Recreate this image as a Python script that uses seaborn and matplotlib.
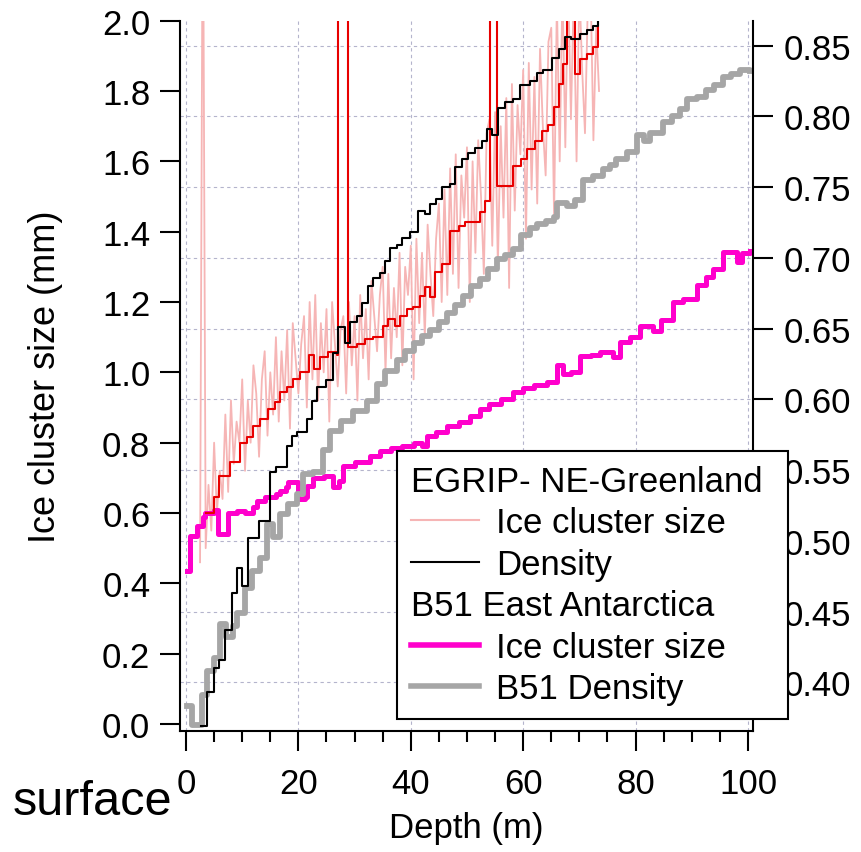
import numpy as np
import matplotlib
matplotlib.use("Agg")
import matplotlib.pyplot as plt
import matplotlib.transforms as mtransforms
from matplotlib.ticker import MultipleLocator, FormatStrFormatter
from matplotlib.lines import Line2D
import seaborn as sns

# ---------------- data ----------------
# EGRIP raw ice cluster size (left axis), sampled every 0.5 m from 2.5 m
pink_start, pink_step = 2.5, 0.5
pink_vals = [
    0.46, 2.50, 0.50, 0.68, 0.55, 0.80, 0.60, 0.72, 0.64, 0.88,
    0.66, 0.92, 0.74, 0.86, 0.80, 0.98, 0.72, 0.92, 0.80, 1.02,
    0.94, 0.76, 0.98, 1.06, 0.82, 1.00, 0.88, 1.10, 0.86, 1.06,
    0.92, 1.12, 0.84, 1.14, 1.04, 0.94, 1.08, 1.16, 0.90, 1.20,
    0.98, 1.22, 0.92, 1.14, 1.00, 1.18, 0.86, 1.20, 1.08, 0.96,
    1.12, 1.16, 0.94, 1.20, 1.02, 1.16, 0.92, 1.22, 1.04, 1.18,
    0.98, 1.26, 1.16, 1.06, 1.22, 1.30, 1.00, 1.28, 1.04, 1.24,
    1.10, 1.34, 1.02, 1.30, 1.22, 1.36, 0.98, 1.38, 1.14, 1.34,
    1.10, 1.42, 1.28, 1.16, 1.38, 1.48, 1.20, 1.52, 1.22, 1.58,
    1.28, 1.62, 1.24, 1.56, 1.44, 1.64, 1.20, 1.60, 1.34, 1.66,
    1.50, 1.28, 1.68, 1.72, 1.36, 1.74, 1.30, 1.70, 1.44, 1.78,
    1.24, 1.82, 1.46, 1.76, 1.62, 1.86, 1.38, 1.88, 1.52, 1.84,
    1.48, 1.92, 1.70, 1.56, 1.94, 1.98, 1.44, 2.06, 1.60, 2.10,
    1.64, 2.12, 1.72, 2.08, 1.60, 2.10, 1.86, 1.68, 2.06, 2.10,
    1.66, 1.98, 1.80,
]
pink_depth = pink_start + pink_step * np.arange(len(pink_vals))

# EGRIP smoothed ice cluster size (left axis, step)
red_depth = [3.5, 4.9, 5.9, 7.8, 9.6, 10.8, 12.0, 13.2, 14.6, 15.8, 16.7, 17.9,
             19.1, 20.3, 21.8, 22.7, 23.8, 25.3, 26.8, 27.1, 28.9, 30.4, 31.9,
             33.3, 35.1, 36.0, 37.2, 38.1, 39.3, 40.4, 41.6, 42.5, 43.4, 44.3,
             45.5, 47.0, 48.5, 49.6, 51.1, 52.3, 53.2, 54.1, 55.3, 58.2, 59.7,
             60.6, 62.1, 63.3, 64.5, 65.4, 66.3, 67.1, 67.8, 69.2, 70.1, 71.3,
             72.5, 73.4]
red_vals = [0.60, 0.645, 0.706, 0.744, 0.80, 0.815, 0.848, 0.867, 0.896, 0.915,
            0.943, 0.957, 0.981, 1.0, 1.048, 1.01, 1.043, 1.057, 1.048, 2.6,
            1.071, 1.081, 1.095, 1.10, 1.133, 1.152, 1.133, 1.161, 1.18, 1.185,
            1.218, 1.242, 1.213, 1.285, 1.308, 1.403, 1.417, 1.427, 1.427,
            1.456, 1.486, 2.6, 1.531, 1.588, 1.607, 1.635, 1.659, 1.687, 1.702,
            1.754, 1.82, 1.877, 2.6, 1.849, 1.891, 1.905, 1.924, 2.6]

# EGRIP density (right axis, step)
black_depth = [2.6, 3.7, 4.9, 5.8, 6.9, 8.1, 9.0, 9.9, 11.1, 12.9, 14.9, 16.1,
               17.9, 18.8, 19.7, 21.5, 22.4, 23.3, 25.0, 26.2, 27.1, 28.3, 29.2,
               30.4, 31.3, 32.3, 33.3, 34.5, 35.4, 36.3, 37.5, 38.4, 39.9, 41.2,
               42.5, 43.4, 44.5, 45.5, 47.0, 47.9, 49.1, 50.2, 51.4, 52.6, 53.5,
               54.5, 55.5, 56.8, 58.2, 59.4, 61.2, 62.4, 63.6, 65.1, 66.3, 67.4,
               68.6, 70.1, 71.3, 72.5, 73.4]
black_vals = [0.369, 0.393, 0.410, 0.416, 0.437, 0.463, 0.481, 0.468, 0.502,
              0.514, 0.549, 0.552, 0.567, 0.574, 0.577, 0.586, 0.599, 0.609,
              0.614, 0.633, 0.651, 0.640, 0.655, 0.659, 0.668, 0.680, 0.686,
              0.689, 0.698, 0.707, 0.709, 0.714, 0.718, 0.733, 0.731, 0.738,
              0.742, 0.750, 0.752, 0.764, 0.770, 0.774, 0.778, 0.783, 0.791,
              0.787, 0.806, 0.810, 0.812, 0.822, 0.825, 0.831, 0.833, 0.841,
              0.848, 0.856, 0.855, 0.858, 0.861, 0.864, 0.868]

# B51 ice cluster size (left axis, step)
mag_depth = [0.1, 0.7, 1.9, 3.0, 3.4, 5.0, 5.7, 7.0, 7.5, 9.0, 10.5, 12.0, 12.6,
             14.0, 16.0, 16.7, 17.8, 18.2, 20.0, 21.2, 21.5, 22.6, 24.5, 26.2,
             27.2, 28.0, 30.0, 32.7, 34.5, 36.5, 38.5, 40.5, 42.0, 42.8, 44.5,
             46.4, 48.5, 50.5, 52.3, 54.0, 56.0, 58.2, 60.0, 62.0, 64.2, 66.0,
             67.0, 68.5, 70.1, 72.0, 73.7, 76.0, 77.2, 79.0, 80.8, 83.1, 84.5,
             86.7, 88.5, 90.9, 92.5, 93.8, 95.6, 98.0, 99.0, 100.4]
mag_vals = [0.436, 0.535, 0.564, 0.59, 0.60, 0.61, 0.54, 0.54, 0.60, 0.607,
            0.60, 0.617, 0.635, 0.645, 0.655, 0.664, 0.674, 0.688, 0.64, 0.645,
            0.678, 0.70, 0.705, 0.675, 0.69, 0.735, 0.745, 0.763, 0.775, 0.785,
            0.79, 0.80, 0.79, 0.82, 0.83, 0.848, 0.86, 0.875, 0.896, 0.91,
            0.925, 0.943, 0.955, 0.965, 0.972, 1.02, 0.995, 1.00, 1.047, 1.05,
            1.057, 1.043, 1.085, 1.10, 1.133, 1.118, 1.15, 1.20, 1.21, 1.247,
            1.27, 1.294, 1.341, 1.314, 1.34, 1.346]

# B51 density (right axis, step)
gray_depth = [0.1, 1.0, 2.8, 3.7, 4.9, 6.0, 7.2, 8.4, 9.0, 10.5, 11.7, 13.2,
              14.4, 15.5, 16.7, 18.2, 19.7, 20.9, 22.6, 24.4, 25.6, 27.5, 29.8,
              32.2, 33.9, 35.5, 37.5, 39.0, 40.5, 42.0, 43.4, 45.0, 46.4, 47.9,
              49.3, 50.8, 52.3, 53.8, 55.3, 56.8, 58.2, 59.7, 61.2, 62.5, 64.0,
              65.4, 66.0, 67.8, 69.2, 70.7, 72.5, 74.2, 75.5, 76.6, 78.5, 80.2,
              81.5, 82.6, 84.9, 86.5, 87.9, 89.1, 91.0, 92.6, 94.0, 95.6, 97.0,
              98.6, 100.4]
gray_vals = [0.383, 0.370, 0.391, 0.408, 0.417, 0.441, 0.432, 0.440, 0.449,
             0.467, 0.479, 0.488, 0.512, 0.503, 0.519, 0.526, 0.533, 0.547,
             0.549, 0.564, 0.578, 0.585, 0.592, 0.599, 0.611, 0.620, 0.628,
             0.634, 0.640, 0.645, 0.649, 0.655, 0.661, 0.667, 0.673, 0.680,
             0.685, 0.692, 0.699, 0.702, 0.706, 0.716, 0.721, 0.724, 0.726,
             0.729, 0.739, 0.737, 0.741, 0.755, 0.758, 0.763, 0.766, 0.770,
             0.775, 0.787, 0.783, 0.788, 0.796, 0.800, 0.805, 0.812, 0.814,
             0.819, 0.822, 0.828, 0.830, 0.833, 0.832]

left_ticks = [0.0, 0.2, 0.4, 0.6, 0.8, 1.0, 1.2, 1.4, 1.6, 1.8, 2.0]
right_ticks = [0.40, 0.45, 0.50, 0.55, 0.60, 0.65, 0.70, 0.75, 0.80, 0.85]
x_ticks = [0, 20, 40, 60, 80, 100]

legend_labels = ["EGRIP- NE-Greenland", "Ice cluster size", "Density",
                 "B51 East Antarctica", "Ice cluster size", "B51 Density"]

# ---------------- style ----------------
FONT = ["Liberation Sans", "DejaVu Sans"]
plt.rcParams["font.family"] = FONT
plt.rcParams["axes.linewidth"] = 1.5

C_PINK = "#F6B5B5"
C_RED = "#E80000"
C_BLACK = "#000000"
C_MAG = "#FF00CC"
C_GRAY = "#A6A6A6"
C_GRID = "#B4B4CC"

fig = plt.figure(figsize=(8.62, 8.53), dpi=100)
ax1 = fig.add_axes([180 / 862, 1 - 731.7 / 853, 573 / 862, 710 / 853])
ax2 = ax1.twinx()

# grid (behind the data)
ax1.set_axisbelow(True)
ax1.set_xticks(x_ticks)
ax1.grid(axis="x", color=C_GRID, linestyle=(0, (3, 3)), linewidth=0.8)
blend = mtransforms.blended_transform_factory(ax1.transAxes, ax2.transData)
for r in right_ticks:
    ax1.plot([0, 1], [r, r], transform=blend, color=C_GRID,
             linestyle=(0, (3, 3)), linewidth=0.8, zorder=0.5)

# data
sns.lineplot(x=pink_depth, y=pink_vals, ax=ax1, color=C_PINK, linewidth=1.3,
             estimator=None, sort=False, legend=False)
sns.lineplot(x=mag_depth, y=mag_vals, ax=ax1, color=C_MAG, linewidth=3.6,
             drawstyle="steps-post", estimator=None, sort=False, legend=False)
sns.lineplot(x=red_depth, y=red_vals, ax=ax1, color=C_RED, linewidth=1.5,
             drawstyle="steps-post", estimator=None, sort=False, legend=False)
sns.lineplot(x=gray_depth, y=gray_vals, ax=ax2, color=C_GRAY, linewidth=4.2,
             drawstyle="steps-post", estimator=None, sort=False, legend=False)
sns.lineplot(x=black_depth, y=black_vals, ax=ax2, color=C_BLACK, linewidth=1.5,
             drawstyle="steps-post", estimator=None, sort=False, legend=False)

ax1.set_xlim(-1.07, 100.9)
ax1.set_ylim(-0.019, 2.0)
ax2.set_ylim(0.3658, 0.8677)

# axes / ticks
for a in (ax1, ax2):
    a.spines["top"].set_visible(False)
ax1.spines["right"].set_visible(False)
ax2.spines["left"].set_visible(False)
ax2.spines["bottom"].set_visible(False)

ax1.set_yticks(left_ticks)
ax1.yaxis.set_major_formatter(FormatStrFormatter("%.1f"))
ax2.set_yticks(right_ticks)
ax2.yaxis.set_major_formatter(FormatStrFormatter("%.2f"))
ax1.xaxis.set_minor_locator(MultipleLocator(5))

ax1.tick_params(axis="y", direction="out", length=14.4, width=1.5, pad=7,
                labelsize=25)
ax2.tick_params(axis="y", direction="out", length=14.4, width=1.5, pad=8,
                labelsize=25)
ax1.tick_params(axis="x", which="major", direction="out", length=14.4,
                width=1.5, pad=12, labelsize=25)
ax1.tick_params(axis="x", which="minor", direction="out", length=8, width=1.5)

ax1.set_xlabel("Depth (m)", fontsize=25, labelpad=8)
ax1.set_ylabel("Ice cluster size (mm)", fontsize=26, labelpad=28)
ax2.set_ylabel("")

fig.text(13 / 862, 1 - 815 / 853, "surface", fontsize=35, ha="left",
         va="baseline")

# legend
handles = [
    Line2D([], [], color="none"),
    Line2D([], [], color=C_PINK, linewidth=1.5),
    Line2D([], [], color=C_BLACK, linewidth=1.5),
    Line2D([], [], color="none"),
    Line2D([], [], color=C_MAG, linewidth=4),
    Line2D([], [], color=C_GRAY, linewidth=4),
]
leg = ax2.legend(handles, legend_labels, loc="upper left",
                 bbox_to_anchor=(397 / 862, (853 - 715) / 853, 391 / 862,
                                 263 / 853),
                 bbox_transform=fig.transFigure, mode="expand",
                 frameon=True, fancybox=False, framealpha=1,
                 edgecolor="black", fontsize=25, handlelength=1.95,
                 handletextpad=0.5, labelspacing=0.245, borderpad=0.4,
                 borderaxespad=0)
leg.get_frame().set_linewidth(1.5)
leg.set_zorder(10)
headers = {legend_labels[0], legend_labels[3]}
for col in leg._legend_handle_box.get_children():
    for row in col.get_children():
        kids = row.get_children()
        if len(kids) == 2 and kids[1].get_text() in headers:
            kids[0].width = 0
            row.sep = 0

fig.savefig("out.png", dpi=100)
